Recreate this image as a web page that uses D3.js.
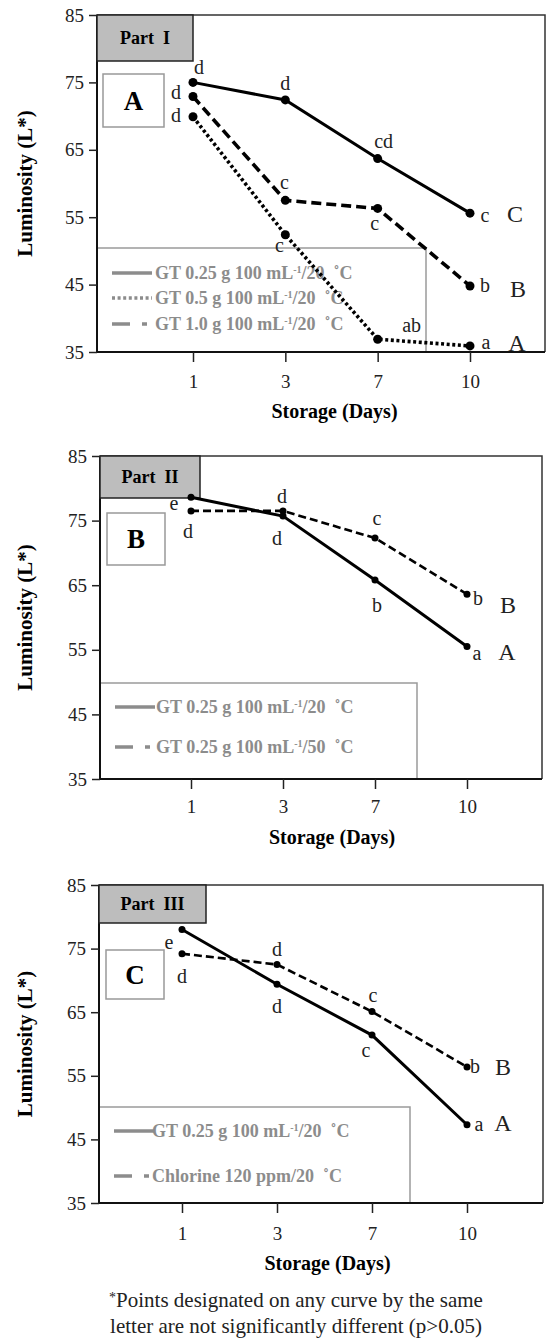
<!DOCTYPE html>
<html>
<head>
<meta charset="utf-8">
<script src="https://cdn.jsdelivr.net/npm/d3@7"></script>
<style>
  body { margin: 0; background: #fff; }
  svg text { font-family: "Liberation Serif", "Times New Roman", "DejaVu Serif", serif; }
</style>
</head>
<body>
<div id="chart"></div>
<script>
const width = 546,
    height = 1338

// data
var days = ["1", "3", "7", "10"]
var yTicks = [35, 45, 55, 65, 75, 85]

// Part I
var gt025_20 = [75.0, 72.4, 63.7, 55.6]
var gt05_20 = [69.9, 52.4, 36.9, 35.9]
var gt10_20 = [72.9, 57.5, 56.3, 44.8]
var gt025_20Letters = ["d", "d", "cd", "c"]
var gt05_20Letters = ["d", "c", "ab", "a"]
var gt10_20Letters = ["d", "c", "c", "b"]

// Part II
var p2_gt025_20 = [78.6, 75.7, 65.8, 55.5]
var p2_gt025_50 = [76.5, 76.5, 72.3, 63.6]
var p2_gt025_20Letters = ["e", "d", "b", "a"]
var p2_gt025_50Letters = ["d", "d", "c", "b"]

// Part III
var p3_gt025_20 = [78.0, 69.4, 61.4, 47.3]
var p3_chlorine = [74.2, 72.5, 65.1, 56.4]
var p3_gt025_20Letters = ["e", "d", "c", "a"]
var p3_chlorineLetters = ["d", "d", "c", "b"]

var groupLetters = ["A", "B", "C"]

var legendGT025_20 = ["GT 0.25 g 100 mL", "-1", "/20  \u02DAC"]
var legendGT05_20 = ["GT 0.5 g 100 mL", "-1", "/20  \u02DAC"]
var legendGT10_20 = ["GT 1.0 g 100 mL", "-1", "/20  \u02DAC"]
var legendGT025_50 = ["GT 0.25 g 100 mL", "-1", "/50  \u02DAC"]
var legendChlorine = ["Chlorine 120 ppm/20  \u02DAC", "", ""]

var footnote = ["Points designated on any curve by the same",
    "letter are not significantly different (p>0.05)"]

// line looks
var styles = {
    solid: { dash: null, width: 3, legendDash: null },
    dotted: { dash: "3,2.6", width: 3.6, legendDash: "3,2.6" },
    dashed: { dash: "10,5", width: 3.6, legendDash: "18,12,5,30" },
    thinDashed: { dash: "8,4", width: 2.6, legendDash: "18,12,5,30" }
}

var panels = [
    {
        top: 15, bottom: 352, left: 97, right: 545, x0: 193, x1: 470,
        part: "Part  I", partRight: 193, partBottom: 61,
        letter: "A", letterBox: [103, 74, 164, 127],
        legendBox: [97, 248, 426, 352], legendRows: [273, 298, 324], legendText: 155,
        tickPad: 13, titleDy: 66, r: 4.5,
        series: [
            { values: gt025_20, letters: gt025_20Letters, group: groupLetters[2], style: "solid",
              offsets: [[6, -8], [0, -10], [6, -11], [15, 9]], groupOffset: [45, 9], legend: legendGT025_20 },
            { values: gt05_20, letters: gt05_20Letters, group: groupLetters[0], style: "dotted",
              offsets: [[-17, 5], [-6, 17], [34, -7], [16, 3]], groupOffset: [47, 5], legend: legendGT05_20 },
            { values: gt10_20, letters: gt10_20Letters, group: groupLetters[1], style: "dashed",
              offsets: [[-17, 2], [-1, -11], [-3, 22], [15, 6]], groupOffset: [48, 11], legend: legendGT10_20 }
        ]
    },
    {
        top: 456, bottom: 779, left: 100, right: 542, x0: 191, x1: 467,
        part: "Part  II", partRight: 200, partBottom: 498,
        letter: "B", letterBox: [107, 513, 165, 565],
        legendBox: [100, 683, 417, 779], legendRows: [707, 747], legendText: 156,
        tickPad: 11, titleDy: 65, r: 3.5,
        series: [
            { values: p2_gt025_20, letters: p2_gt025_20Letters, group: groupLetters[0], style: "solid",
              offsets: [[-17, 13], [-6, 29], [2, 32], [10, 13]], groupOffset: [40, 13], legend: legendGT025_20 },
            { values: p2_gt025_50, letters: p2_gt025_50Letters, group: groupLetters[1], style: "thinDashed",
              offsets: [[-3, 27], [-1, -8], [2, -13], [11, 11]], groupOffset: [41, 19], legend: legendGT025_50 }
        ]
    },
    {
        top: 885, bottom: 1203, left: 99, right: 543, x0: 182, x1: 467,
        part: "Part  III", partRight: 206, partBottom: 923,
        letter: "C", letterBox: [106, 950, 164, 999],
        legendBox: [99, 1107, 410, 1203], legendRows: [1131, 1176], legendText: 152,
        tickPad: 14, titleDy: 67, r: 3.5,
        series: [
            { values: p3_gt025_20, letters: p3_gt025_20Letters, group: groupLetters[0], style: "solid",
              offsets: [[-13, 19], [0, 29], [-6, 22], [12, 6]], groupOffset: [36, 6], legend: legendGT025_20 },
            { values: p3_chlorine, letters: p3_chlorineLetters, group: groupLetters[1], style: "thinDashed",
              offsets: [[0, 29], [0, -9], [1, -10], [8, 6]], groupOffset: [36, 8], legend: legendChlorine }
        ]
    }
]

var serif = "Liberation Serif, Times New Roman, DejaVu Serif, serif"

var svg = d3.select("#chart")
    .append("svg")
    .attr("width", width)
    .attr("height", height)
    .attr("font-family", serif)

var legendGray = "#8c8c8c"

function drawPanel(p) {
    var g = svg.append("g")

    var x = d3.scalePoint().domain(days).range([p.x0, p.x1])
    var y = d3.scaleLinear().domain([35, 85]).range([p.bottom, p.top])

    // legend box first, the curves run over it
    var lb = p.legendBox
    g.append("rect")
        .attr("x", lb[0]).attr("y", lb[1])
        .attr("width", lb[2] - lb[0]).attr("height", lb[3] - lb[1])
        .attr("fill", "none")
        .attr("stroke", "#9a9a9a")
        .attr("stroke-width", 1.5)

    p.series.forEach((s, i) => {
        var st = styles[s.style]
        var row = p.legendRows[i]
        g.append("line")
            .attr("x1", lb[0] + 15).attr("x2", lb[0] + 55)
            .attr("y1", row).attr("y2", row)
            .attr("stroke", legendGray)
            .attr("stroke-width", 3.5)
            .attr("stroke-dasharray", st.legendDash)
        var t = g.append("text")
            .attr("x", p.legendText)
            .attr("y", row + 6)
            .attr("fill", legendGray)
            .attr("font-family", serif)
            .attr("font-weight", "bold")
            .attr("font-size", 18)
            .style("white-space", "pre")
        t.append("tspan").text(s.legend[0])
        if (s.legend[1]) {
            t.append("tspan").attr("dy", -6).attr("font-size", 10).text(s.legend[1])
            t.append("tspan").attr("dy", 6).text(s.legend[2])
        }
    })

    // frame
    g.append("path")
        .attr("d", `M${p.left},${p.top}H${p.right}V${p.bottom}`)
        .attr("fill", "none")
        .attr("stroke", "#333")
        .attr("stroke-width", 1.5)
    g.append("path")
        .attr("d", `M${p.left},${p.top}V${p.bottom}H${p.right}`)
        .attr("fill", "none")
        .attr("stroke", "#111")
        .attr("stroke-width", 2)

    // axes
    var yAxis = g.append("g")
        .attr("transform", `translate(${p.left},0)`)
        .call(d3.axisLeft(y).tickValues(yTicks).tickSize(8).tickPadding(5))
    var xAxis = g.append("g")
        .attr("transform", `translate(0,${p.bottom})`)
        .call(d3.axisBottom(x).tickSize(10).tickPadding(p.tickPad))
    ;[yAxis, xAxis].forEach(a => {
        a.attr("font-family", serif)
        a.select(".domain").remove()
        a.selectAll(".tick line").attr("stroke", "#222").attr("stroke-width", 1.5)
        a.selectAll(".tick text")
            .attr("font-size", 19)
            .attr("fill", "#222")
    })

    g.append("text")
        .attr("x", (p.x0 + p.x1) / 2 + 3)
        .attr("y", p.bottom + p.titleDy)
        .attr("text-anchor", "middle")
        .attr("font-weight", "bold")
        .attr("font-size", 20)
        .text("Storage (Days)")

    g.append("text")
        .attr("transform", `translate(32,${(p.top + p.bottom) / 2}) rotate(-90)`)
        .attr("text-anchor", "middle")
        .attr("font-weight", "bold")
        .attr("font-size", 21)
        .text("Luminosity (L*)")

    // Part box
    g.append("rect")
        .attr("x", p.left).attr("y", p.top)
        .attr("width", p.partRight - p.left).attr("height", p.partBottom - p.top)
        .attr("fill", "#bdbdbd")
        .attr("stroke", "#222")
        .attr("stroke-width", 1.5)
    g.append("text")
        .attr("x", (p.left + p.partRight) / 2)
        .attr("y", (p.top + p.partBottom) / 2 + 6)
        .attr("text-anchor", "middle")
        .attr("font-weight", "bold")
        .attr("font-size", 18)
        .style("white-space", "pre")
        .text(p.part)

    // panel letter box
    var bb = p.letterBox
    g.append("rect")
        .attr("x", bb[0]).attr("y", bb[1])
        .attr("width", bb[2] - bb[0]).attr("height", bb[3] - bb[1])
        .attr("fill", "#fff")
        .attr("stroke", "#999")
        .attr("stroke-width", 1.5)
    g.append("text")
        .attr("x", (bb[0] + bb[2]) / 2)
        .attr("y", (bb[1] + bb[3]) / 2 + 9)
        .attr("text-anchor", "middle")
        .attr("font-weight", "bold")
        .attr("font-size", 27)
        .text(p.letter)

    // curves
    var line = d3.line()
        .x((d, i) => x(days[i]))
        .y(d => y(d))

    p.series.forEach(s => {
        var st = styles[s.style]
        g.append("path")
            .datum(s.values)
            .attr("d", line)
            .attr("fill", "none")
            .attr("stroke", "#000")
            .attr("stroke-width", st.width)
            .attr("stroke-dasharray", st.dash)

        g.append("g")
            .selectAll("circle")
            .data(s.values)
            .enter()
            .append("circle")
            .attr("cx", (d, i) => x(days[i]))
            .attr("cy", d => y(d))
            .attr("r", p.r)
            .attr("fill", "#000")

        g.append("g")
            .selectAll("text")
            .data(s.values)
            .enter()
            .append("text")
            .attr("x", (d, i) => x(days[i]) + s.offsets[i][0])
            .attr("y", (d, i) => y(d) + s.offsets[i][1])
            .attr("text-anchor", "middle")
            .attr("font-size", 20)
            .attr("fill", "#222")
            .text((d, i) => s.letters[i])

        var last = s.values.length - 1
        g.append("text")
            .attr("x", x(days[last]) + s.groupOffset[0])
            .attr("y", y(s.values[last]) + s.groupOffset[1])
            .attr("text-anchor", "middle")
            .attr("font-size", 24)
            .attr("fill", "#222")
            .text(s.group)
    })
}

panels.forEach(drawPanel)

var note = svg.append("text")
    .attr("text-anchor", "middle")
    .attr("font-size", 21)
    .attr("fill", "#222")
note.append("tspan")
    .attr("x", 296).attr("y", 1307)
    .attr("dy", -5)
    .attr("font-size", 14)
    .text("*")
note.append("tspan")
    .attr("dy", 5)
    .text(footnote[0])
note.append("tspan")
    .attr("x", 296).attr("y", 1333)
    .text(footnote[1])
</script>
</body>
</html>
